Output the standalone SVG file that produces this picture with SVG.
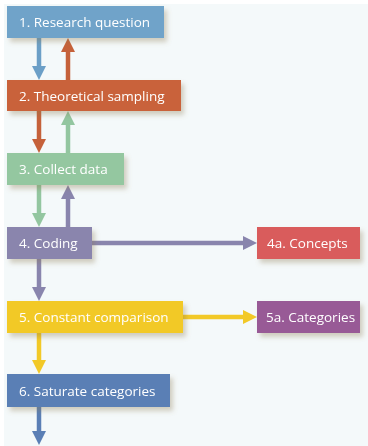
<svg xmlns="http://www.w3.org/2000/svg" width="368" height="446" viewBox="0 0 368 446">
<defs>
<filter id="sh" x="-10%" y="-20%" width="130%" height="160%">
<feDropShadow dx="3" dy="4" stdDeviation="2.5" flood-color="#8a7a50" flood-opacity="0.35"/>
</filter>
</defs>
<style>
.t{font-family:"Open Sans","Noto Sans",sans-serif;font-size:13.5px;font-weight:500;fill:#ffffff}
.c{fill:none;stroke-width:4.5}
.box{filter:url(#sh)}
</style>
<rect x="0" y="0" width="368" height="446" fill="#ffffff"/>
<rect x="4" y="4" width="364" height="442" fill="#f4f9fa"/>
<g id="connectors">
<path class="c" d="M39,38 V66" stroke="#6b9fc7"/><polygon points="32,66 46,66 39,80" fill="#6b9fc7"/>
<path class="c" d="M68,80 V52" stroke="#c5613a"/><polygon points="61,52 75,52 68,38" fill="#c5613a"/>
<path class="c" d="M39,111 V139" stroke="#c5613a"/><polygon points="32,139 46,139 39,153" fill="#c5613a"/>
<path class="c" d="M68,153 V125" stroke="#93c6a0"/><polygon points="61,125 75,125 68,111" fill="#93c6a0"/>
<path class="c" d="M39,185 V213" stroke="#93c6a0"/><polygon points="32,213 46,213 39,227" fill="#93c6a0"/>
<path class="c" d="M68,227 V199" stroke="#8985ad"/><polygon points="61,199 75,199 68,185" fill="#8985ad"/>
<path class="c" d="M39,259 V287" stroke="#8985ad"/><polygon points="32,287 46,287 39,301" fill="#8985ad"/>
<path class="c" d="M92,243 H243" stroke="#8985ad"/><polygon points="243,236 243,250 257,243" fill="#8985ad"/>
<path class="c" d="M183,317 H243" stroke="#f2c927"/><polygon points="243,310 243,324 257,317" fill="#f2c927"/>
<path class="c" d="M39,333 V360" stroke="#f2c927"/><polygon points="32,360 46,360 39,374" fill="#f2c927"/>
<path class="c" d="M39,407 V431" stroke="#5a7fb5"/><polygon points="32,431 46,431 39,445" fill="#5a7fb5"/>
</g>
<g id="n1" class="box"><rect x="7" y="6" width="157" height="32" fill="#6fa3c9"/><text class="t" x="19" y="27">1. Research question</text></g>
<g id="n2" class="box"><rect x="7" y="80" width="174" height="31" fill="#c9623a"/><text class="t" x="19" y="100.5">2. Theoretical sampling</text></g>
<g id="n3" class="box"><rect x="7" y="153" width="117" height="32" fill="#94c7a0"/><text class="t" x="19" y="174">3. Collect data</text></g>
<g id="n4" class="box"><rect x="7" y="227" width="85" height="32" fill="#8a85ad"/><text class="t" x="19" y="248">4. Coding</text></g>
<g id="n5" class="box"><rect x="7" y="301" width="176" height="32" fill="#f2c927"/><text class="t" x="19" y="322">5. Constant comparison</text></g>
<g id="n6" class="box"><rect x="7" y="374" width="163" height="33" fill="#5a7fb5"/><text class="t" x="19" y="395.5">6. Saturate categories</text></g>
<g id="n4a" class="box"><rect x="257" y="227" width="103" height="32" fill="#d95c5c"/><text class="t" x="267" y="248">4a. Concepts</text></g>
<g id="n5a" class="box"><rect x="257" y="301" width="103" height="32" fill="#985a96"/><text class="t" x="266" y="322">5a. Categories</text></g>
</svg>
